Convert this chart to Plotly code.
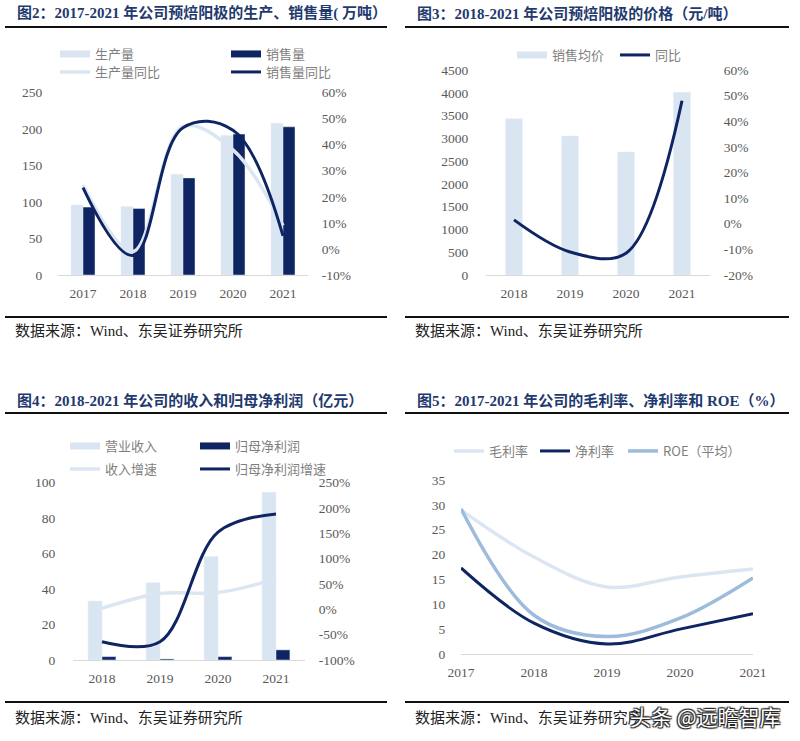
import plotly.graph_objects as go

# ---------------- data ----------------
years_a = ['2017', '2018', '2019', '2020', '2021']
production = [96, 94, 138, 191, 208]
sales = [93, 91, 133, 193, 203]
production_yoy = [0.245, -0.01, 0.47, 0.38, 0.09]
sales_yoy = [0.235, -0.025, 0.465, 0.455, 0.05]

years_b = ['2018', '2019', '2020', '2021']
avg_price = [3430, 3050, 2700, 4010]
price_yoy = [0.015, -0.11, -0.115, 0.48]

years_c = ['2018', '2019', '2020', '2021']
revenue = [33.2, 43.5, 58.3, 94.5]
net_profit = [1.9, 0.6, 1.9, 5.7]
revenue_yoy = [0.02, 0.31, 0.33, 0.60]
net_profit_yoy = [-0.64, -0.64, 1.52, 1.88]

years_d = ['2017', '2018', '2019', '2020', '2021']
gross_margin = [29.0, 19.5, 13.5, 15.5, 17.1]
net_margin = [17.3, 6.2, 2.0, 5.0, 8.1]
roe_avg = [29.2, 7.8, 3.5, 7.2, 15.3]

ticks_a_left = [0, 50, 100, 150, 200, 250]
ticks_a_right = [-0.1, 0, 0.1, 0.2, 0.3, 0.4, 0.5, 0.6]
ticks_a_right_text = ['-10%', '0%', '10%', '20%', '30%', '40%', '50%', '60%']
ticks_b_left = [0, 500, 1000, 1500, 2000, 2500, 3000, 3500, 4000, 4500]
ticks_b_right = [-0.2, -0.1, 0, 0.1, 0.2, 0.3, 0.4, 0.5, 0.6]
ticks_b_right_text = ['-20%', '-10%', '0%', '10%', '20%', '30%', '40%', '50%', '60%']
ticks_c_left = [0, 20, 40, 60, 80, 100]
ticks_c_right = [-1.0, -0.5, 0, 0.5, 1.0, 1.5, 2.0, 2.5]
ticks_c_right_text = ['-100%', '-50%', '0%', '50%', '100%', '150%', '200%', '250%']
ticks_d = [0, 5, 10, 15, 20, 25, 30, 35]

titles = [
    '图2：2017-2021 年公司预焙阳极的生产、销售量( 万吨）',
    '图3：2018-2021 年公司预焙阳极的价格（元/吨）',
    '图4：2018-2021 年公司的收入和归母净利润（亿元）',
    '图5：2017-2021 年公司的毛利率、净利率和 ROE（%）',
]
source_text = '数据来源：Wind、东吴证券研究所'
watermark = '头条 @远瞻智库'

# ---------------- style ----------------
W, H = 800, 741
NAVY = '#0e2463'
LIGHT_BAR = '#dae5f2'
LIGHT_LINE = '#dce6f2'
ROE_C = '#9dbbda'
TICK_FONT = dict(family='Liberation Serif, Noto Sans CJK SC', size=13.5, color='#595959')
LEG_FONT = dict(family='Noto Sans CJK SC', size=13, color='#7f7f7f')
TITLE_C = '#1f3a6e'


def px(x):
    return x / W


def py(y):
    return 1 - y / H


fig = go.Figure()

# ---- panel A ----
fig.add_trace(go.Bar(x=years_a, y=production, marker_color=LIGHT_BAR, showlegend=False,
                     xaxis='x', yaxis='y'))
fig.add_trace(go.Bar(x=years_a, y=sales, marker_color=NAVY, showlegend=False,
                     xaxis='x', yaxis='y'))
fig.add_trace(go.Scatter(x=years_a, y=production_yoy, mode='lines', line=dict(color=LIGHT_LINE, width=3.5, shape='spline', smoothing=1.0),
                         name='生产量同比', legend='legend3', xaxis='x', yaxis='y2'))
fig.add_trace(go.Scatter(x=years_a, y=sales_yoy, mode='lines', line=dict(color=NAVY, width=3, shape='spline', smoothing=1.1),
                         name='销售量同比', legend='legend4', xaxis='x', yaxis='y2'))
fig.add_trace(go.Scatter(x=[None], y=[None], mode='lines', line=dict(color=LIGHT_BAR, width=7),
                         name='生产量', legend='legend', xaxis='x', yaxis='y'))
fig.add_trace(go.Scatter(x=[None], y=[None], mode='lines', line=dict(color=NAVY, width=7),
                         name='销售量', legend='legend2', xaxis='x', yaxis='y'))

# ---- panel B ----
fig.add_trace(go.Bar(x=years_b, y=avg_price, marker_color=LIGHT_BAR, width=0.3, showlegend=False,
                     xaxis='x2', yaxis='y3'))
fig.add_trace(go.Scatter(x=years_b, y=price_yoy, mode='lines', line=dict(color=NAVY, width=3, shape='spline', smoothing=1.0),
                         name='同比', legend='legend6', xaxis='x2', yaxis='y4'))
fig.add_trace(go.Scatter(x=[None], y=[None], mode='lines', line=dict(color=LIGHT_BAR, width=7),
                         name='销售均价', legend='legend5', xaxis='x2', yaxis='y3'))

# ---- panel C ----
fig.add_trace(go.Bar(x=years_c, y=revenue, marker_color=LIGHT_BAR, showlegend=False,
                     xaxis='x3', yaxis='y5'))
fig.add_trace(go.Bar(x=years_c, y=net_profit, marker_color=NAVY, showlegend=False,
                     xaxis='x3', yaxis='y5'))
fig.add_trace(go.Scatter(x=years_c, y=revenue_yoy, mode='lines', line=dict(color=LIGHT_LINE, width=3.5, shape='spline', smoothing=1.0),
                         name='收入增速', legend='legend9', xaxis='x3', yaxis='y6'))
fig.add_trace(go.Scatter(x=years_c, y=net_profit_yoy, mode='lines', line=dict(color=NAVY, width=3, shape='spline', smoothing=1.0),
                         name='归母净利润增速', legend='legend10', xaxis='x3', yaxis='y6'))
fig.add_trace(go.Scatter(x=[None], y=[None], mode='lines', line=dict(color=LIGHT_BAR, width=7),
                         name='营业收入', legend='legend7', xaxis='x3', yaxis='y5'))
fig.add_trace(go.Scatter(x=[None], y=[None], mode='lines', line=dict(color=NAVY, width=7),
                         name='归母净利润', legend='legend8', xaxis='x3', yaxis='y5'))

# ---- panel D ----
fig.add_trace(go.Scatter(x=years_d, y=gross_margin, mode='lines', line=dict(color=LIGHT_LINE, width=3.5, shape='spline', smoothing=1.0),
                         name='毛利率', legend='legend11', xaxis='x4', yaxis='y7'))
fig.add_trace(go.Scatter(x=years_d, y=net_margin, mode='lines', line=dict(color=NAVY, width=3, shape='spline', smoothing=1.0),
                         name='净利率', legend='legend12', xaxis='x4', yaxis='y7'))
fig.add_trace(go.Scatter(x=years_d, y=roe_avg, mode='lines', line=dict(color=ROE_C, width=3.5, shape='spline', smoothing=1.0),
                         name='ROE（平均）', legend='legend13', xaxis='x4', yaxis='y7'))


def xax(dom, anchor):
    return dict(domain=dom, anchor=anchor, type='category', showgrid=False, zeroline=False,
                showline=True, linecolor='#d9d9d9', linewidth=1, ticks='outside', ticklen=6,
                tickcolor='rgba(0,0,0,0)', tickfont=TICK_FONT, fixedrange=True)


def yax(dom, anchor, rng, vals, text=None, side='left', overlay=None, standoff=8):
    d = dict(anchor=anchor, range=rng, tickvals=vals, showgrid=False, zeroline=False,
             showline=False, ticks='outside', ticklen=standoff, tickcolor='rgba(0,0,0,0)',
             tickfont=TICK_FONT, side=side, fixedrange=True)
    if text is not None:
        d['ticktext'] = text
    if overlay:
        d['overlaying'] = overlay
    else:
        d['domain'] = dom
    return d


domA_x = [px(58), px(308)]
domA_y = [py(275), py(92.5)]
domB_x = [px(486), px(710)]
domB_y = [py(275), py(70)]
domC_x = [px(73), px(305)]
domC_y = [py(660), py(482.5)]
domD_x = [px(461), px(753)]
domD_y = [py(654), py(480)]

layout = dict(
    width=W, height=H, margin=dict(l=0, r=0, t=0, b=0, autoexpand=False),
    paper_bgcolor='white', plot_bgcolor='white',
    barmode='group', bargap=0.52, bargroupgap=0,
    xaxis=xax(domA_x, 'y'),
    yaxis=yax(domA_y, 'x', [0, 250], ticks_a_left, standoff=12),
    yaxis2=yax(None, 'x', [-0.1, 0.6], ticks_a_right, ticks_a_right_text, side='right', overlay='y', standoff=10),
    xaxis2=xax(domB_x, 'y3'),
    yaxis3=yax(domB_y, 'x2', [0, 4500], ticks_b_left, standoff=14),
    yaxis4=yax(None, 'x2', [-0.2, 0.6], ticks_b_right, ticks_b_right_text, side='right', overlay='y3', standoff=10),
    xaxis3=xax(domC_x, 'y5'),
    yaxis5=yax(domC_y, 'x3', [0, 100], ticks_c_left, standoff=14),
    yaxis6=yax(None, 'x3', [-1.0, 2.5], ticks_c_right, ticks_c_right_text, side='right', overlay='y5', standoff=10),
    xaxis4=xax(domD_x, 'y7'),
    yaxis7=yax(domD_y, 'x4', [0, 35], ticks_d, standoff=12),
)

# legends: one per item, positioned
leg_pos = {
    'legend': (60, 54), 'legend2': (231, 54), 'legend3': (60, 72), 'legend4': (231, 72),
    'legend5': (517, 55), 'legend6': (620, 55),
    'legend7': (70, 446), 'legend8': (200, 446), 'legend9': (70, 469), 'legend10': (200, 469),
    'legend11': (454, 451), 'legend12': (540, 451), 'legend13': (628, 451),
}
for k, (lx, ly) in leg_pos.items():
    layout[k] = dict(x=px(lx - 5), y=py(ly), xanchor='left', yanchor='middle',
                     bgcolor='rgba(0,0,0,0)', borderwidth=0, font=LEG_FONT,
                     orientation='h', itemclick=False, itemdoubleclick=False)

fig.update_layout(**layout)

# titles, rules, sources
shapes = []
anns = []
title_pos = [(15, 13), (415, 13), (15, 400), (415, 400)]
for t, (tx, ty) in zip(titles, title_pos):
    anns.append(dict(text='<b>' + t + '</b>', x=px(tx), y=py(ty), xref='paper', yref='paper',
                     xanchor='left', yanchor='middle', showarrow=False,
                     font=dict(family='Liberation Serif, Noto Sans CJK SC', size=15, color=TITLE_C)))
for (x0, x1) in [(5, 387), (405, 789)]:
    for yy in [27, 317, 413, 702]:
        shapes.append(dict(type='line', xref='paper', yref='paper', x0=px(x0), x1=px(x1),
                           y0=py(yy), y1=py(yy), line=dict(color='#111111', width=2)))
for (sx, sy) in [(13, 331), (413, 331), (13, 718), (413, 718)]:
    anns.append(dict(text=source_text, x=px(sx), y=py(sy), xref='paper', yref='paper',
                     xanchor='left', yanchor='middle', showarrow=False,
                     font=dict(family='Liberation Serif, Noto Sans CJK SC', size=15, color='#222222')))
anns.append(dict(text=watermark, x=px(783), y=py(716), xref='paper', yref='paper',
                 xanchor='right', yanchor='middle', showarrow=False,
                 font=dict(family='Noto Sans CJK SC', size=21, color='white',
                           shadow='1px 1px 1px #222, -1px -1px 1px #222, 1px -1px 1px #222, -1px 1px 1px #222')))
fig.update_layout(shapes=shapes, annotations=anns)

fig.write_html('out.html', config={'displayModeBar': False},
               post_script="document.body.style.margin='0';document.body.style.padding='0';")
